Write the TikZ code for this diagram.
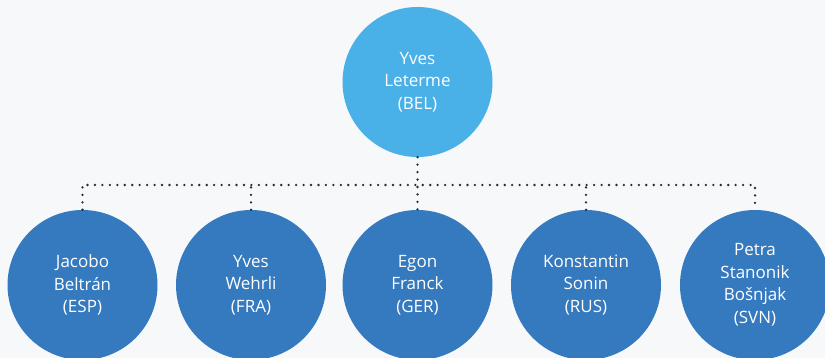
\documentclass[tikz,border=0pt]{standalone}
\usepackage{fontspec}
\setmainfont{Open Sans}
\definecolor{bgc}{HTML}{F6F8FA}
\definecolor{topc}{HTML}{4AB0E8}
\definecolor{botc}{HTML}{3579BF}
\definecolor{dotc}{HTML}{2A2A2A}
\begin{document}
\begin{tikzpicture}[x=1pt,y=-1pt,
  person/.style={circle,minimum size=150pt,inner sep=0pt,text=white,align=center,
    font=\fontsize{17}{22.5}\selectfont},
  topperson/.style={person,fill=topc},
  botperson/.style={person,fill=botc},
  link/.style={draw=dotc,line width=2.6pt,line cap=round,dash pattern=on 0pt off 7.45pt}]
\fill[bgc] (0,0) rectangle (825,358);
\useasboundingbox (0,0) rectangle (825,358);
\clip (0,0) rectangle (825,358);
\node[topperson] (top) at (417.5,82) {Yves\\Leterme\\(BEL)};
\node[botperson] (b1) at (82.5,285) {Jacobo\\Beltrán\\(ESP)};
\node[botperson] (b2) at (251,285) {Yves\\Wehrli\\(FRA)};
\node[botperson] (b3) at (417.5,285) {Egon\\Franck\\(GER)};
\node[botperson] (b4) at (586,285) {Konstantin\\Sonin\\(RUS)};
\node[botperson] (b5) at (755,285) {Petra\\Stanonik\\Bošnjak\\(SVN)};
\coordinate (h) at (417.5,185);
\draw[link] (top.south) -- (b3.north);
\draw[link] (b1.north) -- (b1.north |- h) -- (b5.north |- h) -- (b5.north);
\draw[link] (b2.north) -- (b2.north |- h);
\draw[link] (b4.north) -- (b4.north |- h);
\end{tikzpicture}
\end{document}
